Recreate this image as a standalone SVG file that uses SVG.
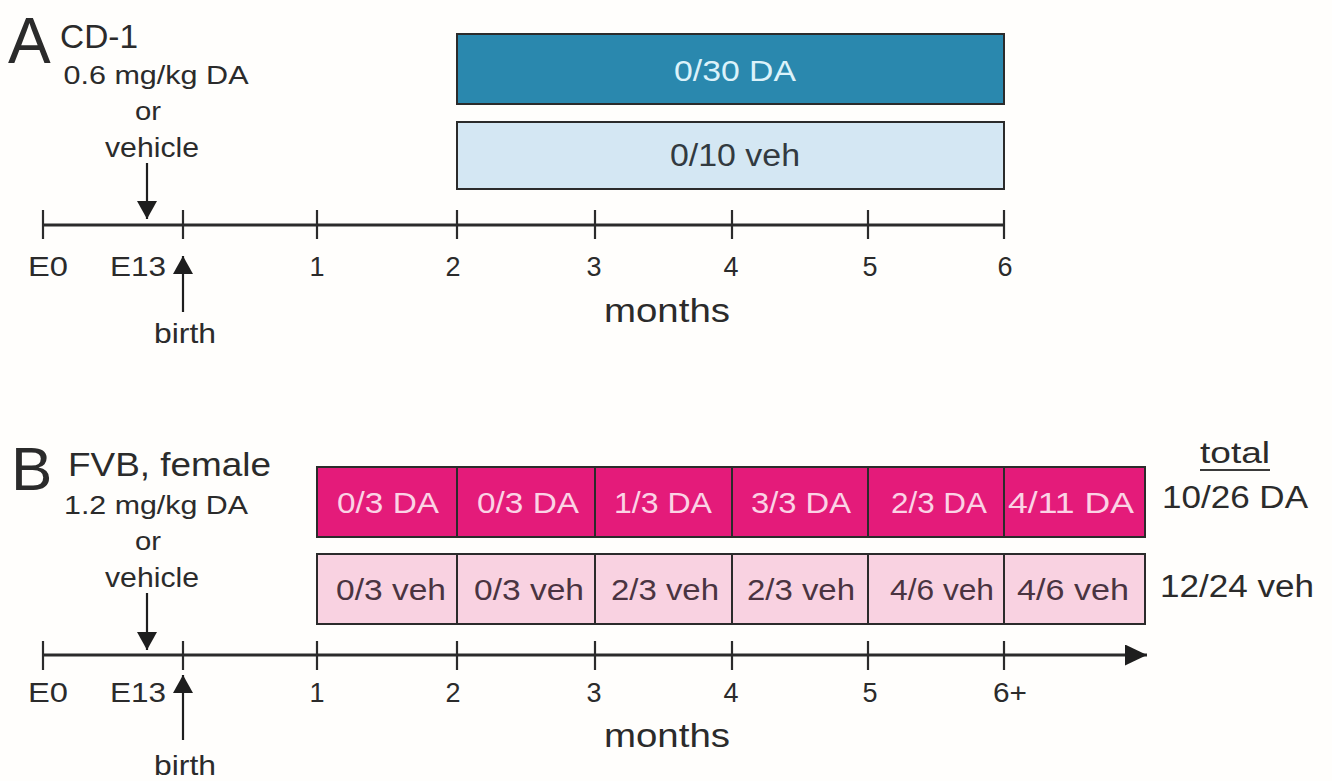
<svg xmlns="http://www.w3.org/2000/svg" width="1332" height="781" viewBox="0 0 1332 781">
  <defs>
    <style>
      text { font-family: "Liberation Sans", Arial, sans-serif; fill: #2b2b2b; }
      .axis { stroke: #2b2b2b; stroke-width: 3; fill: none; }
      .tick { stroke: #2b2b2b; stroke-width: 2.2; }
      .shaft { stroke: #1e1e1e; stroke-width: 2.2; }
      .lbl { font-size: 27px; text-anchor: middle; }
      .note { font-size: 25px; text-anchor: middle; }
      .big { font-size: 64px; }
      .head { font-size: 33px; }
      .cell { stroke: #2b2b2b; stroke-width: 2; }
      .ctext { font-size: 29px; text-anchor: middle; }
      .da-txt { fill: #fbd3e5; }
      .veh-txt { fill: #4a3441; }
      .months { font-size: 34px; text-anchor: middle; }
    </style>
    <marker id="tri" viewBox="0 0 18 20" refX="18" refY="10" markerWidth="18" markerHeight="20" orient="auto" markerUnits="userSpaceOnUse">
      <path d="M0,0 L18,10 L0,20 Z" fill="#1e1e1e"/>
    </marker>
    <marker id="tri-axis" viewBox="0 0 22 21" refX="22" refY="10.5" markerWidth="22" markerHeight="21" orient="auto" markerUnits="userSpaceOnUse">
      <path d="M0,0 L22,10.5 L0,21 Z" fill="#1e1e1e"/>
    </marker>
  </defs>
  <rect width="1332" height="781" fill="#fffefc"/>

  <!-- Panel A: CD-1 -->
  <g id="panelA-title">
    <text x="8" y="63" class="big">A</text>
    <text x="60" y="48" class="head" textLength="78" lengthAdjust="spacingAndGlyphs">CD-1</text>
    <text x="156" y="84" class="note" textLength="185" lengthAdjust="spacingAndGlyphs">0.6 mg/kg DA</text>
    <text x="148" y="120" class="note" textLength="26" lengthAdjust="spacingAndGlyphs">or</text>
    <text x="152" y="157" class="note" style="font-size:27px" textLength="94" lengthAdjust="spacingAndGlyphs">vehicle</text>
  </g>

  <g id="boxA-DA">
    <rect x="457" y="34" width="547" height="70" fill="#2a88ae" class="cell"/>
    <text x="735" y="81" class="ctext" style="font-size:30px;fill:#dcf2fa" textLength="122" lengthAdjust="spacingAndGlyphs">0/30 DA</text>
  </g>
  <g id="boxA-veh">
    <rect x="457" y="122" width="547" height="67" fill="#d4e7f3" class="cell"/>
    <text x="735" y="166" class="ctext" style="font-size:31px;fill:#323a40" textLength="130" lengthAdjust="spacingAndGlyphs">0/10 veh</text>
  </g>

  <g id="connectorsA">
    <line x1="43" y1="225" x2="1004" y2="225" class="axis"/>
    <line x1="43" y1="210" x2="43" y2="239" class="tick"/>
    <line x1="183" y1="210" x2="183" y2="239" class="tick"/>
    <line x1="317" y1="210" x2="317" y2="239" class="tick"/>
    <line x1="457" y1="210" x2="457" y2="239" class="tick"/>
    <line x1="595" y1="210" x2="595" y2="239" class="tick"/>
    <line x1="732" y1="210" x2="732" y2="239" class="tick"/>
    <line x1="868" y1="210" x2="868" y2="239" class="tick"/>
    <line x1="1004" y1="210" x2="1004" y2="239" class="tick"/>
    <line x1="147" y1="163" x2="147" y2="219" class="shaft" marker-end="url(#tri)"/>
    <line x1="183" y1="312" x2="183" y2="256" class="shaft" marker-end="url(#tri)"/>
  </g>

  <g id="axisA-labels">
    <text x="48" y="276" class="lbl" textLength="40" lengthAdjust="spacingAndGlyphs">E0</text>
    <text x="138" y="276" class="lbl" textLength="56" lengthAdjust="spacingAndGlyphs">E13</text>
    <text x="317" y="276" class="lbl">1</text>
    <text x="453" y="276" class="lbl">2</text>
    <text x="594" y="276" class="lbl">3</text>
    <text x="731" y="276" class="lbl">4</text>
    <text x="870" y="276" class="lbl">5</text>
    <text x="1005" y="276" class="lbl">6</text>
    <text x="667" y="322" class="months" textLength="126" lengthAdjust="spacingAndGlyphs">months</text>
    <text x="185" y="343" class="lbl" style="font-size:28px" textLength="62" lengthAdjust="spacingAndGlyphs">birth</text>
  </g>

  <!-- Panel B: FVB, female -->
  <g id="panelB-title">
    <text x="11" y="490" class="big" style="font-size:62px">B</text>
    <text x="68" y="476" class="head" textLength="203" lengthAdjust="spacingAndGlyphs">FVB, female</text>
    <text x="156" y="514" class="note" textLength="184" lengthAdjust="spacingAndGlyphs">1.2 mg/kg DA</text>
    <text x="148" y="550" class="note" textLength="26" lengthAdjust="spacingAndGlyphs">or</text>
    <text x="152" y="587" class="note" style="font-size:27px" textLength="94" lengthAdjust="spacingAndGlyphs">vehicle</text>
  </g>

  <g id="rowB-DA">
    <rect x="317" y="467" width="140" height="70" fill="#e41b7a" class="cell"/>
    <rect x="457" y="467" width="138" height="70" fill="#e41b7a" class="cell"/>
    <rect x="595" y="467" width="137" height="70" fill="#e41b7a" class="cell"/>
    <rect x="732" y="467" width="136" height="70" fill="#e41b7a" class="cell"/>
    <rect x="868" y="467" width="136" height="70" fill="#e41b7a" class="cell"/>
    <rect x="1004" y="467" width="141" height="70" fill="#e41b7a" class="cell"/>
    <text x="388" y="513" class="ctext da-txt" textLength="102" lengthAdjust="spacingAndGlyphs">0/3 DA</text>
    <text x="528" y="513" class="ctext da-txt" textLength="102" lengthAdjust="spacingAndGlyphs">0/3 DA</text>
    <text x="663" y="513" class="ctext da-txt" textLength="98" lengthAdjust="spacingAndGlyphs">1/3 DA</text>
    <text x="801" y="513" class="ctext da-txt" textLength="100" lengthAdjust="spacingAndGlyphs">3/3 DA</text>
    <text x="939" y="513" class="ctext da-txt" textLength="96" lengthAdjust="spacingAndGlyphs">2/3 DA</text>
    <text x="1071" y="513" class="ctext da-txt" textLength="126" lengthAdjust="spacingAndGlyphs">4/11 DA</text>
  </g>

  <g id="rowB-veh">
    <rect x="317" y="554" width="140" height="70" fill="#f9d2e1" class="cell"/>
    <rect x="457" y="554" width="138" height="70" fill="#f9d2e1" class="cell"/>
    <rect x="595" y="554" width="137" height="70" fill="#f9d2e1" class="cell"/>
    <rect x="732" y="554" width="136" height="70" fill="#f9d2e1" class="cell"/>
    <rect x="868" y="554" width="136" height="70" fill="#f9d2e1" class="cell"/>
    <rect x="1004" y="554" width="141" height="70" fill="#f9d2e1" class="cell"/>
    <text x="391" y="600" class="ctext veh-txt" textLength="110" lengthAdjust="spacingAndGlyphs">0/3 veh</text>
    <text x="529" y="600" class="ctext veh-txt" textLength="110" lengthAdjust="spacingAndGlyphs">0/3 veh</text>
    <text x="665" y="600" class="ctext veh-txt" textLength="108" lengthAdjust="spacingAndGlyphs">2/3 veh</text>
    <text x="801" y="600" class="ctext veh-txt" textLength="108" lengthAdjust="spacingAndGlyphs">2/3 veh</text>
    <text x="942" y="600" class="ctext veh-txt" textLength="104" lengthAdjust="spacingAndGlyphs">4/6 veh</text>
    <text x="1073" y="600" class="ctext veh-txt" textLength="112" lengthAdjust="spacingAndGlyphs">4/6 veh</text>
  </g>

  <g id="totals">
    <text x="1235" y="463" class="ctext" style="font-size:30px" textLength="70" lengthAdjust="spacingAndGlyphs">total</text>
    <line x1="1200" y1="470" x2="1270" y2="470" stroke="#3a3a3a" stroke-width="2"/>
    <text x="1235" y="508" class="ctext" style="font-size:32px" textLength="146" lengthAdjust="spacingAndGlyphs">10/26 DA</text>
    <text x="1237" y="597" class="ctext" style="font-size:31px" textLength="154" lengthAdjust="spacingAndGlyphs">12/24 veh</text>
  </g>

  <g id="connectorsB">
    <line x1="43" y1="655" x2="1147" y2="655" class="axis" marker-end="url(#tri-axis)"/>
    <line x1="43" y1="641" x2="43" y2="670" class="tick"/>
    <line x1="183" y1="641" x2="183" y2="670" class="tick"/>
    <line x1="317" y1="641" x2="317" y2="670" class="tick"/>
    <line x1="457" y1="641" x2="457" y2="670" class="tick"/>
    <line x1="595" y1="641" x2="595" y2="670" class="tick"/>
    <line x1="732" y1="641" x2="732" y2="670" class="tick"/>
    <line x1="868" y1="641" x2="868" y2="670" class="tick"/>
    <line x1="1004" y1="641" x2="1004" y2="670" class="tick"/>
    <line x1="147" y1="593" x2="147" y2="650" class="shaft" marker-end="url(#tri)"/>
    <line x1="183" y1="740" x2="183" y2="675" class="shaft" marker-end="url(#tri)"/>
  </g>

  <g id="axisB-labels">
    <text x="48" y="702" class="lbl" textLength="40" lengthAdjust="spacingAndGlyphs">E0</text>
    <text x="138" y="702" class="lbl" textLength="56" lengthAdjust="spacingAndGlyphs">E13</text>
    <text x="317" y="702" class="lbl">1</text>
    <text x="453" y="702" class="lbl">2</text>
    <text x="594" y="702" class="lbl">3</text>
    <text x="731" y="702" class="lbl">4</text>
    <text x="870" y="702" class="lbl">5</text>
    <text x="1010" y="702" class="lbl" textLength="34" lengthAdjust="spacingAndGlyphs">6+</text>
    <text x="667" y="747" class="months" textLength="126" lengthAdjust="spacingAndGlyphs">months</text>
    <text x="185" y="775" class="lbl" style="font-size:28px" textLength="62" lengthAdjust="spacingAndGlyphs">birth</text>
  </g>
</svg>
